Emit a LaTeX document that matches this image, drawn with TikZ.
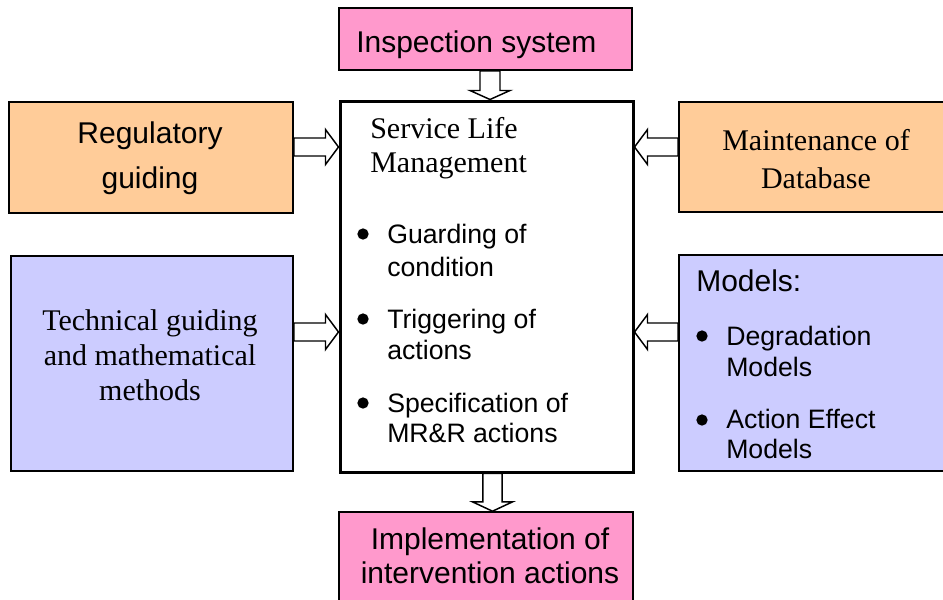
\documentclass[tikz,border=0pt]{standalone}
\usepackage{fontspec}
\setmainfont{Liberation Serif}
\setsansfont{Liberation Sans}
\usetikzlibrary{calc}
\definecolor{pinkbox}{HTML}{FF99CC}
\definecolor{orangebox}{HTML}{FFCC99}
\definecolor{lavbox}{HTML}{CCCCFF}
% #1 start, #2 end, #3 shaft half width, #4 head half width, #5 head length
\newcommand\blockarrow[5]{%
  \coordinate (ba-h) at ($(#2)!#5!(#1)$);
  \draw[hollowarrow] ($(#1)!#3!90:(#2)$) -- ($(ba-h)!#3!90:(#2)$) -- ($(ba-h)!#4!90:(#2)$)
    -- (#2) -- ($(ba-h)!#4!-90:(#2)$) -- ($(ba-h)!#3!-90:(#2)$) -- ($(#1)!#3!-90:(#2)$) -- cycle;}
\begin{document}
\begin{tikzpicture}[x=0.75pt,y=-0.75pt,
  box/.style={draw=black, line width=1.2pt, inner sep=0pt},
  hollowarrow/.style={draw=black, fill=white, line width=1.1pt, line join=miter},
  titletext/.style={font=\sffamily\fontsize{22.5}{27}\selectfont, inner sep=0pt},
  seriftext/.style={font=\rmfamily\fontsize{22.5}{27}\selectfont, inner sep=0pt},
  itemtext/.style={font=\sffamily\fontsize{20}{24}\selectfont, inner sep=0pt, anchor=base west},
  bulletdot/.style={circle, fill=black, inner sep=0pt, minimum size=8.5pt}]
\useasboundingbox (0,0) rectangle (943,600);

% boxes
\node[box, fill=pinkbox, minimum width=219.75pt, minimum height=46.5pt] (insp) at (485.5,39) {};
\node[box, fill=orangebox, minimum width=213pt, minimum height=83.25pt] (regL) at (151,157.5) {};
\node[box, fill=orangebox, minimum width=201.75pt, minimum height=82.5pt] (maint) at (813.5,157) {};
\node[box, fill=lavbox, minimum width=211.5pt, minimum height=161.25pt] (tech) at (152,363.5) {};
\node[box, fill=lavbox, minimum width=201.75pt, minimum height=162pt] (models) at (813.5,363) {};
\node[box, fill=pinkbox, minimum width=220.5pt, minimum height=73.5pt] (impl) at (486,561) {};
\node[draw=black, fill=white, line width=2.25pt, inner sep=0pt, minimum width=219.75pt, minimum height=278.25pt] (center) at (486.5,286.5) {};

% arrow end points
\coordinate (t1) at ($(insp.south)+(4.5,0)$);
\coordinate (t2) at (t1 |- center.north);
\coordinate (b1) at ($(center.south)+(6,0)$);
\coordinate (b2) at (b1 |- impl.north);
\coordinate (l1) at ($(regL.east)+(0,-10.5)$);
\coordinate (l2) at (center.west |- l1);
\coordinate (l3) at ($(tech.east)+(0,-31.5)$);
\coordinate (l4) at (center.west |- l3);
\coordinate (r1) at ($(maint.west)+(0,-10)$);
\coordinate (r2) at (center.east |- r1);
\coordinate (r3) at ($(models.west)+(0,-31)$);
\coordinate (r4) at (center.east |- r3);

\blockarrow{t1}{t2}{7.5pt}{15pt}{6.75pt}
\blockarrow{b1}{b2}{7.2pt}{15pt}{7pt}
\blockarrow{l1}{l2}{6.75pt}{13.1pt}{9.75pt}
\blockarrow{l3}{l4}{6.75pt}{13.1pt}{9.75pt}
\blockarrow{r1}{r2}{6.75pt}{13.1pt}{9.75pt}
\blockarrow{r3}{r4}{6.75pt}{13.1pt}{9.75pt}

% texts
\node[titletext, anchor=base west] (inspT) at (356,52) {Inspection system};
\node[titletext, anchor=base] (regT1) at (150,143) {Regulatory};
\node[titletext, anchor=base] (regT2) at (150,188) {guiding};
\node[seriftext, anchor=base] (maintT1) at (816,150) {Maintenance of};
\node[seriftext, anchor=base] (maintT2) at (816,188) {Database};
\node[seriftext, anchor=base] (techT1) at (150,330) {Technical guiding};
\node[seriftext, anchor=base] (techT2) at (150,365) {and mathematical};
\node[seriftext, anchor=base] (techT3) at (150,400) {methods};
\node[seriftext, anchor=base west] (slmT1) at (370,138) {Service Life};
\node[seriftext, anchor=base west] (slmT2) at (370,172) {Management};

\node[bulletdot] (bu1) at (363,234) {};
\node[bulletdot] (bu2) at (363,319) {};
\node[bulletdot] (bu3) at (363,403) {};
\node[itemtext] (it1a) at (387,243) {Guarding of};
\node[itemtext] (it1b) at (387,276) {condition};
\node[itemtext] (it2a) at (387,328) {Triggering of};
\node[itemtext] (it2b) at (387,359) {actions};
\node[itemtext] (it3a) at (387,412) {Specification of};
\node[itemtext] (it3b) at (387,442) {MR\&R actions};

\node[titletext, anchor=base west] (modT) at (696,291) {Models:};
\node[bulletdot] (bu4) at (702,336) {};
\node[bulletdot] (bu5) at (702,420) {};
\node[itemtext] (md1a) at (726,345) {Degradation};
\node[itemtext] (md1b) at (726,376) {Models};
\node[itemtext] (md2a) at (726,428) {Action Effect};
\node[itemtext] (md2b) at (726,458) {Models};

\node[titletext, anchor=base] (implT1) at (490,549) {Implementation of};
\node[titletext, anchor=base] (implT2) at (490,583) {intervention actions};
\end{tikzpicture}
\end{document}
